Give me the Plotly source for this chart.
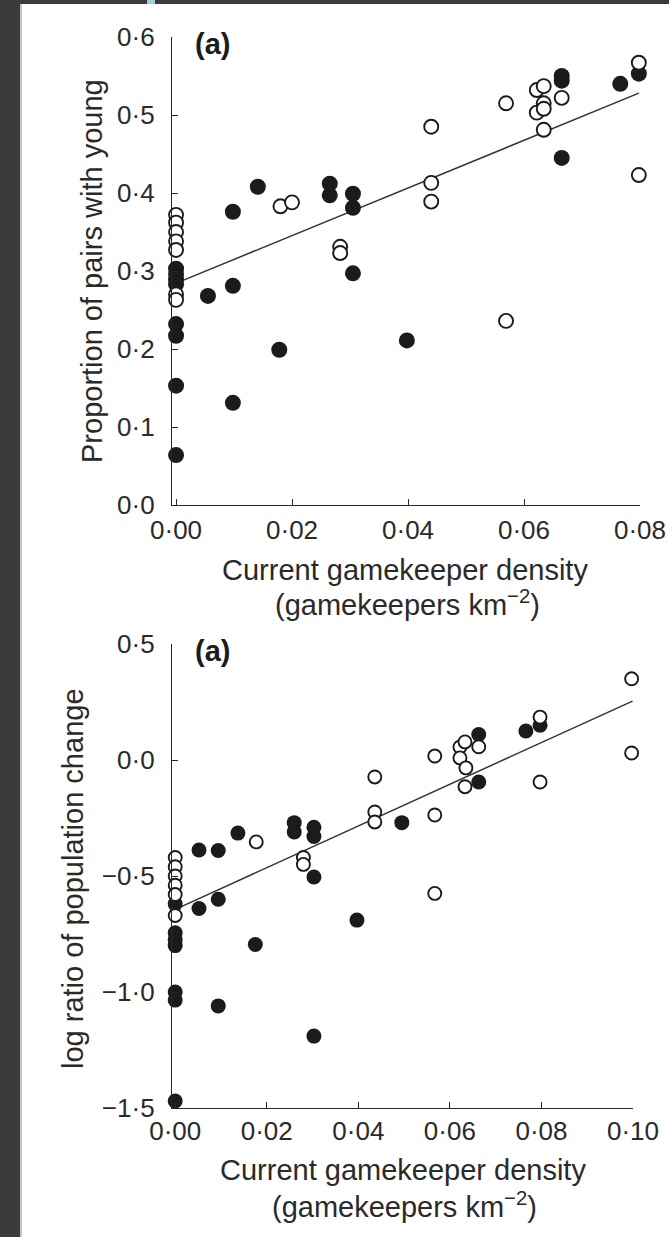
import plotly.graph_objects as go

W, H = 669, 1237

# ---------------- data: panel 1 (proportion of pairs with young) ----------------
top_filled_x = [0, 0, 0, 0, 0, 0, 0, 0, 0.0055, 0.0098, 0.0098, 0.0098, 0.0141, 0.0178,
                0.0265, 0.0265, 0.0305, 0.0305, 0.0305, 0.0398, 0.0665, 0.0665, 0.0665,
                0.0766, 0.0798]
top_filled_y = [0.303, 0.296, 0.289, 0.283, 0.232, 0.217, 0.153, 0.064, 0.268, 0.376, 0.281,
                0.131, 0.408, 0.199, 0.412, 0.397, 0.399, 0.381, 0.297, 0.211, 0.550, 0.544,
                0.445, 0.540, 0.553]
top_open_x = [0, 0, 0, 0, 0, 0, 0, 0.018, 0.020, 0.0283, 0.0283, 0.044, 0.044, 0.044, 0.0569,
              0.0569, 0.0622, 0.0634, 0.0634, 0.0622, 0.0634, 0.0634, 0.0665, 0.0798, 0.0798]
top_open_y = [0.372, 0.362, 0.350, 0.338, 0.327, 0.270, 0.263, 0.383, 0.388, 0.331, 0.323,
              0.485, 0.413, 0.389, 0.236, 0.515, 0.532, 0.537, 0.515, 0.503, 0.508, 0.481,
              0.522, 0.567, 0.423]
top_fit_x = [0.0012, 0.0798]
top_fit_y = [0.288, 0.528]
top_xticks = [0.0, 0.02, 0.04, 0.06, 0.08]
top_xtext = ["0·00", "0·02", "0·04", "0·06", "0·08"]
top_yticks = [0.0, 0.1, 0.2, 0.3, 0.4, 0.5, 0.6]
top_ytext = ["0·0", "0·1", "0·2", "0·3", "0·4", "0·5", "0·6"]

# ---------------- data: panel 2 (log ratio of population change) ----------------
bot_filled_x = [0, 0, 0, 0, 0, 0, 0, 0.0052, 0.0094, 0.0137, 0.0052, 0.0094, 0.0175, 0.0094,
                0.026, 0.026, 0.0303, 0.0303, 0.0303, 0.0303, 0.0397, 0.0495, 0.0663, 0.0663,
                0.0766, 0.0797]
bot_filled_y = [-0.62, -0.745, -0.775, -0.80, -1.00, -1.035, -1.47, -0.388, -0.39, -0.315,
                -0.64, -0.60, -0.795, -1.06, -0.27, -0.31, -0.29, -0.33, -0.504, -1.19, -0.69,
                -0.27, 0.11, -0.095, 0.125, 0.15]
bot_open_x = [0, 0, 0, 0, 0, 0, 0.0177, 0.028, 0.028, 0.0436, 0.0436, 0.0436, 0.0567, 0.0567,
              0.0567, 0.0622, 0.0633, 0.0622, 0.0635, 0.0633, 0.0663, 0.0797, 0.0797, 0.0997,
              0.0997]
bot_open_y = [-0.42, -0.46, -0.50, -0.54, -0.58, -0.67, -0.353, -0.42, -0.45, -0.073, -0.224,
              -0.267, 0.017, -0.237, -0.575, 0.056, 0.078, 0.009, -0.034, -0.115, 0.057, 0.185,
              -0.095, 0.35, 0.03]
bot_fit_x = [0.0011, 0.0999]
bot_fit_y = [-0.634, 0.254]
bot_xticks = [0.0, 0.02, 0.04, 0.06, 0.08, 0.10]
bot_xtext = ["0·00", "0·02", "0·04", "0·06", "0·08", "0·10"]
bot_yticks = [-1.5, -1.0, -0.5, 0.0, 0.5]
bot_ytext = ["−1·5", "−1·0", "−0·5", "0·0", "0·5"]

FONT = "Arial, 'Liberation Sans', Helvetica, sans-serif"
INK = "#1b1b1b"
TXT = "#2a2a2a"


def px_x(p):
    return p / W


def px_y(p):
    return 1 - p / H


fig = go.Figure()


def add_panel(fx, fy, ox, oy, lx, ly, xa, ya, size):
    fig.add_trace(go.Scatter(x=lx, y=ly, mode="lines", xaxis=xa, yaxis=ya,
                             line=dict(color="#333333", width=1.5), showlegend=False,
                             cliponaxis=False, hoverinfo="skip"))
    fig.add_trace(go.Scatter(x=fx, y=fy, mode="markers", xaxis=xa, yaxis=ya,
                             marker=dict(size=size, color=INK, line=dict(width=0)),
                             showlegend=False, cliponaxis=False))
    fig.add_trace(go.Scatter(x=ox, y=oy, mode="markers", xaxis=xa, yaxis=ya,
                             marker=dict(size=size - 2, color="white",
                                         line=dict(width=1.9, color=INK)),
                             showlegend=False, cliponaxis=False))


add_panel(top_filled_x, top_filled_y, top_open_x, top_open_y, top_fit_x, top_fit_y,
          "x", "y", 16)
add_panel(bot_filled_x, bot_filled_y, bot_open_x, bot_open_y, bot_fit_x, bot_fit_y,
          "x2", "y2", 15)

axis_common = dict(showgrid=False, zeroline=False, showline=True, linecolor="#262626",
                   linewidth=1.4, ticks="inside", ticklen=6, tickwidth=1.4,
                   tickcolor="#262626", tickfont=dict(family=FONT, size=26, color=TXT),
                   tickmode="array", automargin=False, fixedrange=True)

fig.update_layout(
    width=W, height=H,
    margin=dict(l=0, r=0, t=0, b=0),
    paper_bgcolor="white", plot_bgcolor="white",
    xaxis=dict(axis_common, domain=[px_x(172), px_x(640)], range=[-0.0007, 0.08],
               tickvals=top_xticks, ticktext=top_xtext, anchor="y", ticklabelstandoff=2),
    yaxis=dict(axis_common, domain=[px_y(505), px_y(37)], range=[0, 0.6],
               tickvals=top_yticks, ticktext=top_ytext, anchor="x", ticklabelstandoff=11),
    xaxis2=dict(axis_common, domain=[px_x(172), px_x(633)], range=[-0.0007, 0.10],
                tickvals=bot_xticks, ticktext=bot_xtext, anchor="y2", ticklabelstandoff=0),
    yaxis2=dict(axis_common, domain=[px_y(1108), px_y(644)], range=[-1.5, 0.5],
                tickvals=bot_yticks, ticktext=bot_ytext, anchor="x2", ticklabelstandoff=11),
)

# frame decorations (dark page border of the screenshot)
fig.add_shape(type="rect", xref="paper", yref="paper", x0=0, x1=px_x(20), y0=0, y1=1,
              fillcolor="#3b3b3b", line=dict(width=0), layer="above")
fig.add_shape(type="rect", xref="paper", yref="paper", x0=0, x1=1, y0=px_y(4), y1=1,
              fillcolor="#3b3b3b", line=dict(width=0), layer="above")
fig.add_shape(type="rect", xref="paper", yref="paper", x0=px_x(20), x1=px_x(22), y0=0,
              y1=px_y(4), fillcolor="#c4c4c4", line=dict(width=0), layer="above")
fig.add_shape(type="rect", xref="paper", yref="paper", x0=px_x(147), x1=px_x(155),
              y0=px_y(4), y1=1, fillcolor="#a9cbd8", line=dict(width=0), layer="above")

TF = dict(family=FONT, size=29, color=TXT)


def ann(text, x, y, font, angle=0):
    fig.add_annotation(text=text, x=px_x(x), y=px_y(y), xref="paper", yref="paper",
                       showarrow=False, xanchor="center", yanchor="middle",
                       textangle=angle, font=font)


# panel labels
for ly in (44, 651):
    fig.add_annotation(text="<b>(a)</b>", x=px_x(193), y=px_y(ly), xref="paper",
                       yref="paper", showarrow=False, xanchor="left", yanchor="middle",
                       font=dict(family=FONT, size=29, color=INK))

# axis titles
ann("Current gamekeeper density", 405, 570, TF)
ann("(gamekeepers km<sup>−2</sup>)", 407, 603, TF)
ann("Proportion of pairs with young", 92, 271, TF, angle=-90)
ann("Current gamekeeper density", 403, 1170, TF)
ann("(gamekeepers km<sup>−2</sup>)", 404, 1205, TF)
ann("log ratio of population change", 73, 879, TF, angle=-90)

fig.write_html("out.html")
